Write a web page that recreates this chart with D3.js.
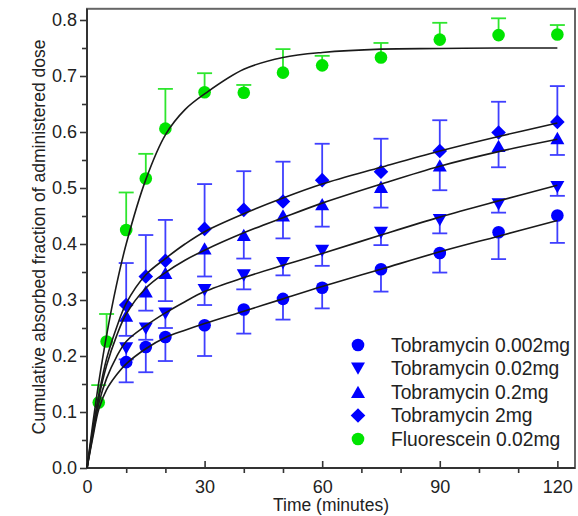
<!DOCTYPE html>
<html>
<head>
<meta charset="utf-8">
<script src="https://cdn.jsdelivr.net/npm/d3@7"></script>
<style>
  html, body { margin: 0; padding: 0; background: #fff; }
  svg { display: block; font-family: "Liberation Sans", Arial, sans-serif; }
</style>
</head>
<body>
<svg id="chart" width="578" height="516"></svg>
<script>
// ---------- data ----------
const seriesNames = ["Tobramycin 0.002mg", "Tobramycin 0.02mg", "Tobramycin 0.2mg", "Tobramycin 2mg", "Fluorescein 0.02mg"];
const tobraTimes = [10, 15, 20, 30, 40, 50, 60, 75, 90, 105, 120];
const fluoTimes = [3, 5, 10, 15, 20, 30, 40, 50, 60, 75, 90, 105, 120];

const tobra0002 = [0.189, 0.216, 0.234, 0.255, 0.283, 0.302, 0.322, 0.355, 0.384, 0.421, 0.451];
const tobra0002Err = [0.036, 0.045, 0.043, 0.055, 0.043, 0.037, 0.037, 0.040, 0.035, 0.048, 0.049];
const tobra002 = [0.214, 0.249, 0.276, 0.318, 0.344, 0.366, 0.388, 0.420, 0.443, 0.471, 0.502];
const tobra002Err = [0.020, 0.020, 0.026, 0.027, 0.025, 0.022, 0.027, 0.022, 0.024, 0.015, 0.016];
const tobra02 = [0.272, 0.315, 0.348, 0.392, 0.416, 0.451, 0.471, 0.502, 0.540, 0.575, 0.589];
const tobra02Err = [0.036, 0.034, 0.050, 0.050, 0.042, 0.041, 0.040, 0.037, 0.044, 0.038, 0.030];
const tobra2 = [0.291, 0.342, 0.370, 0.427, 0.461, 0.476, 0.514, 0.529, 0.566, 0.599, 0.618];
const tobra2Err = [0.075, 0.074, 0.073, 0.080, 0.069, 0.071, 0.065, 0.059, 0.055, 0.055, 0.064];
const fluo002 = [0.117, 0.226, 0.425, 0.517, 0.606, 0.671, 0.670, 0.706, 0.719, 0.733, 0.765, 0.773, 0.774];
const fluo002Err = [0.031, 0.049, 0.067, 0.044, 0.071, 0.034, 0.014, 0.042, 0.017, 0.026, 0.030, 0.030, 0.017];

// fitted curves
const fitTimes = [0, 1.5, 3, 5, 7.5, 10, 15, 20, 25, 30, 40, 50, 60, 75, 90, 105, 120];
const fit0002 = [0, 0.055, 0.105, 0.140, 0.166, 0.186, 0.213, 0.233, 0.246, 0.258, 0.280, 0.302, 0.324, 0.355, 0.386, 0.414, 0.442];
const fit002 = [0, 0.060, 0.115, 0.160, 0.198, 0.226, 0.254, 0.277, 0.297, 0.315, 0.340, 0.362, 0.383, 0.416, 0.448, 0.477, 0.505];
const fit02 = [0, 0.065, 0.125, 0.183, 0.235, 0.275, 0.321, 0.349, 0.371, 0.389, 0.420, 0.447, 0.473, 0.507, 0.539, 0.565, 0.587];
const fit2 = [0, 0.070, 0.130, 0.195, 0.250, 0.294, 0.345, 0.374, 0.400, 0.422, 0.454, 0.482, 0.507, 0.537, 0.566, 0.592, 0.616];
const fitFluo = [0, 0.080, 0.153, 0.237, 0.326, 0.400, 0.515, 0.595, 0.640, 0.668, 0.712, 0.733, 0.742, 0.748, 0.749, 0.750, 0.750];

const xMajorTicks = [0, 30, 60, 90, 120];
const xMinorTicks = [10, 20, 40, 50, 70, 80, 100, 110];
const yMajorTicks = [0, 0.1, 0.2, 0.3, 0.4, 0.5, 0.6, 0.7, 0.8];
const yMinorTicks = [0.05, 0.15, 0.25, 0.35, 0.45, 0.55, 0.65, 0.75];

// ---------- setup ----------
const svg = d3.select("#chart");
const x = d3.scaleLinear().domain([0, 124.5]).range([87, 575]);
const y = d3.scaleLinear().domain([0, 0.82]).range([468, 468 - 0.82 * 560]);

const BLUE = "#0000ff", BLUE_BAR = "#3f3fff", GREEN = "#00e400", GREEN_BAR = "#2ee62e";

// marker shapes (local coordinates)
function markerPath(kind) {
  if (kind === "circle") return d3.symbol().type(d3.symbolCircle).size(Math.PI * 6.3 * 6.3)();
  if (kind === "diamond") return "M0,-7.3L7.3,0L0,7.3L-7.3,0Z";
  if (kind === "up") return "M0,-6.3L7,6L-7,6Z";
  if (kind === "down") return "M0,6.3L7,-6L-7,-6Z";
}

const series = [
  { name: seriesNames[0], t: tobraTimes, v: tobra0002, e: tobra0002Err, dir: -1, kind: "circle", color: BLUE, bar: BLUE_BAR, fit: fit0002 },
  { name: seriesNames[1], t: tobraTimes, v: tobra002, e: tobra002Err, dir: -1, kind: "down", color: BLUE, bar: BLUE_BAR, fit: fit002 },
  { name: seriesNames[2], t: tobraTimes, v: tobra02, e: tobra02Err, dir: -1, kind: "up", color: BLUE, bar: BLUE_BAR, fit: fit02 },
  { name: seriesNames[3], t: tobraTimes, v: tobra2, e: tobra2Err, dir: 1, kind: "diamond", color: BLUE, bar: BLUE_BAR, fit: fit2 },
  { name: seriesNames[4], t: fluoTimes, v: fluo002, e: fluo002Err, dir: 1, kind: "circle", color: GREEN, bar: GREEN_BAR, fit: fitFluo }
];

// ---------- frame ----------
svg.append("rect")
  .attr("x", x(0)).attr("y", y(0.82))
  .attr("width", x(124.5) - x(0)).attr("height", y(0) - y(0.82))
  .attr("fill", "none").attr("stroke", "#666").attr("stroke-width", 2);

// ---------- axes ----------
const gx = svg.append("g").attr("transform", `translate(0,${y(0)})`);
gx.call(d3.axisBottom(x).tickValues(xMajorTicks).tickSize(-7).tickFormat(d3.format("d")).tickPadding(12));
gx.append("g").call(d3.axisBottom(x).tickValues(xMinorTicks).tickSize(5).tickFormat(""));
gx.selectAll(".domain").remove();
gx.selectAll("text").attr("font-size", 18).attr("fill", "#222").attr("font-family", "Liberation Sans, Arial, sans-serif");
gx.selectAll("line").attr("stroke", "#333").attr("stroke-width", 1.6);

const gy = svg.append("g").attr("transform", `translate(${x(0)},0)`);
gy.call(d3.axisLeft(y).tickValues(yMajorTicks).tickSize(7).tickFormat(d3.format(".1f")).tickPadding(3));
gy.append("g").call(d3.axisLeft(y).tickValues(yMinorTicks).tickSize(5).tickFormat(""));
gy.selectAll(".domain").remove();
gy.selectAll("text").attr("font-size", 18).attr("fill", "#222").attr("font-family", "Liberation Sans, Arial, sans-serif");
gy.selectAll("line").attr("stroke", "#333").attr("stroke-width", 1.6);

// axis lines
svg.append("line").attr("x1", x(0)).attr("x2", x(124.5)).attr("y1", y(0)).attr("y2", y(0))
  .attr("stroke", "#333").attr("stroke-width", 2);
svg.append("line").attr("x1", x(0)).attr("x2", x(0)).attr("y1", y(0)).attr("y2", y(0.82))
  .attr("stroke", "#333").attr("stroke-width", 2);

// axis titles
svg.append("text").attr("x", 331).attr("y", 511)
  .attr("text-anchor", "middle").attr("font-size", 17.5).attr("fill", "#222")
  .text("Time (minutes)");
svg.append("text").attr("transform", `translate(45,237) rotate(-90)`)
  .attr("text-anchor", "middle").attr("font-size", 17.5).attr("fill", "#222")
  .text("Cumulative absorbed fraction of administered dose");

// ---------- error bars ----------
const plot = svg.append("g");
series.forEach(s => {
  const g = plot.append("g");
  s.t.forEach((t, i) => {
    const v = s.v[i], end = v + s.dir * s.e[i];
    g.append("line").attr("x1", x(t)).attr("x2", x(t)).attr("y1", y(v)).attr("y2", y(end))
      .attr("stroke", s.bar).attr("stroke-width", 1.8);
    g.append("line").attr("x1", x(t) - 7.5).attr("x2", x(t) + 7.5).attr("y1", y(end)).attr("y2", y(end))
      .attr("stroke", s.bar).attr("stroke-width", 1.8);
  });
});

// ---------- markers ----------
series.forEach(s => {
  plot.append("g").selectAll("path").data(s.t.map((t, i) => [t, s.v[i]])).join("path")
    .attr("d", markerPath(s.kind))
    .attr("transform", d => `translate(${x(d[0])},${y(d[1])})`)
    .attr("fill", s.color);
});

// ---------- fitted curves ----------
const line = d3.line().x(d => x(d[0])).y(d => y(d[1])).curve(d3.curveCatmullRom.alpha(0.5));
series.forEach(s => {
  plot.append("path").attr("d", line(fitTimes.map((t, i) => [t, s.fit[i]])))
    .attr("fill", "none").attr("stroke", "#1a1a1a").attr("stroke-width", 1.6);
});

// ---------- legend ----------
const legend = svg.append("g");
series.forEach((s, i) => {
  const cy = 345 + i * 23.5;
  legend.append("path").attr("d", markerPath(s.kind))
    .attr("transform", `translate(358,${cy})`).attr("fill", s.color);
  legend.append("text").attr("x", 391).attr("y", cy + 6.8)
    .attr("font-size", 19.3).attr("fill", "#222").text(s.name);
});
</script>
</body>
</html>
